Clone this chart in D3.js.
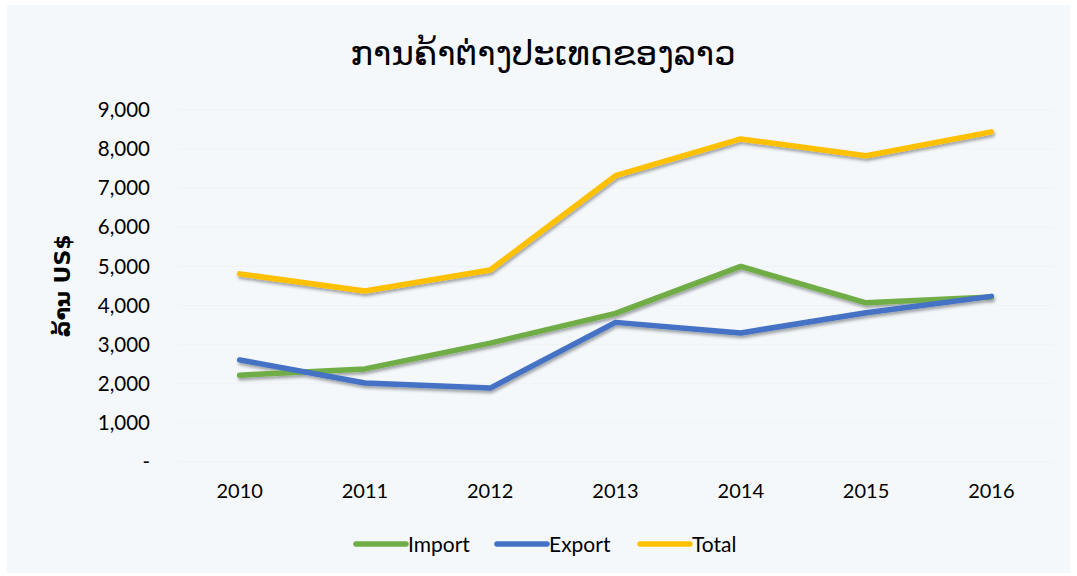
<!DOCTYPE html>
<html>
<head>
<meta charset="utf-8">
<script src="https://cdn.jsdelivr.net/npm/d3@7"></script>
<style>
  body { margin: 0; background: #fff; }
  svg text { font-family: Lato, "Open Sans", sans-serif; fill: #000; }
</style>
</head>
<body>
<div id="chart"></div>
<script>
const years = ["2010", "2011", "2012", "2013", "2014", "2015", "2016"];
const importVals = [2220, 2380, 3040, 3800, 5000, 4070, 4220];
const exportVals = [2610, 2020, 1890, 3570, 3300, 3815, 4235];
const totalVals = [4810, 4370, 4910, 7320, 8260, 7830, 8440];
const yTicks = [0, 1000, 2000, 3000, 4000, 5000, 6000, 7000, 8000, 9000];

const series = [
  { name: "Import", values: importVals, color: "#70ad47" },
  { name: "Export", values: exportVals, color: "#4472c4" },
  { name: "Total", values: totalVals, color: "#ffc000" }
];

const width = 1077, height = 576;
const svg = d3.select("#chart").append("svg")
  .attr("width", width).attr("height", height);

svg.append("rect")
  .attr("x", 7).attr("y", 5)
  .attr("width", width - 14).attr("height", height - 8)
  .attr("fill", "#f4f8fb");

const defs = svg.append("defs");
const f = defs.append("filter").attr("id", "shadow")
  .attr("x", "-5%").attr("y", "-20%").attr("width", "110%").attr("height", "140%");
f.append("feDropShadow")
  .attr("dx", 1).attr("dy", 2.5).attr("stdDeviation", 1.5)
  .attr("flood-color", "#000").attr("flood-opacity", 0.35);

const x = d3.scaleBand().domain(years).range([177, 1054]);
const y = d3.scaleLinear().domain([0, 9000]).range([462, 110]);

// faint gridlines
svg.append("g").selectAll("line").data(yTicks).enter().append("line")
  .attr("x1", 177).attr("x2", 1054)
  .attr("y1", d => y(d)).attr("y2", d => y(d))
  .attr("stroke", "#eff3f7").attr("stroke-width", 1);

// y axis
const yAxis = svg.append("g")
  .attr("transform", "translate(150,0)")
  .call(d3.axisLeft(y).tickValues(yTicks).tickSize(0)
    .tickFormat(d => d === 0 ? "-" : d3.format(",")(d)));
yAxis.select(".domain").remove();
yAxis.selectAll("text")
  .attr("x", 0).attr("dx", 0)
  .style("font-size", "20.5px")
  .attr("text-anchor", "end");

// x axis
const xAxis = svg.append("g")
  .attr("transform", "translate(0,462)")
  .call(d3.axisBottom(x).tickSize(0));
xAxis.select(".domain").remove();
xAxis.selectAll("text")
  .attr("y", 22)
  .style("font-size", "20px");

// lines
const line = d3.line()
  .x((d, i) => x(years[i]) + x.bandwidth() / 2)
  .y(d => y(d));

svg.append("g").attr("filter", "url(#shadow)")
  .selectAll("path").data(series).enter().append("path")
  .attr("d", d => line(d.values))
  .attr("fill", "none")
  .attr("stroke", d => d.color)
  .attr("stroke-width", 5.5)
  .attr("stroke-linecap", "round")
  .attr("stroke-linejoin", "round");

// title
svg.append("text")
  .attr("x", 543).attr("y", 65)
  .attr("text-anchor", "middle")
  .style("font-family", "'DejaVu Sans', sans-serif")
  .style("font-size", "34px")
  .text("ການຄ້າຕ່າງປະເທດຂອງລາວ");

// y label
svg.append("text")
  .attr("transform", "translate(70,286) rotate(-90)")
  .attr("text-anchor", "middle")
  .style("font-family", "'DejaVu Sans', sans-serif")
  .style("font-size", "22px")
  .style("font-weight", "bold")
  .text("ລ້ານ US$");

// legend
const legendX = [356, 497, 640];
const lg = svg.append("g").selectAll("g").data(series).enter().append("g")
  .attr("transform", (d, i) => `translate(${legendX[i]},544)`);
lg.append("line")
  .attr("x1", 0).attr("x2", 50)
  .attr("stroke", d => d.color)
  .attr("stroke-width", 5.5)
  .attr("stroke-linecap", "round");
lg.append("text")
  .attr("x", 52).attr("y", 7.5)
  .style("font-size", "21px")
  .text(d => d.name);
</script>
</body>
</html>
